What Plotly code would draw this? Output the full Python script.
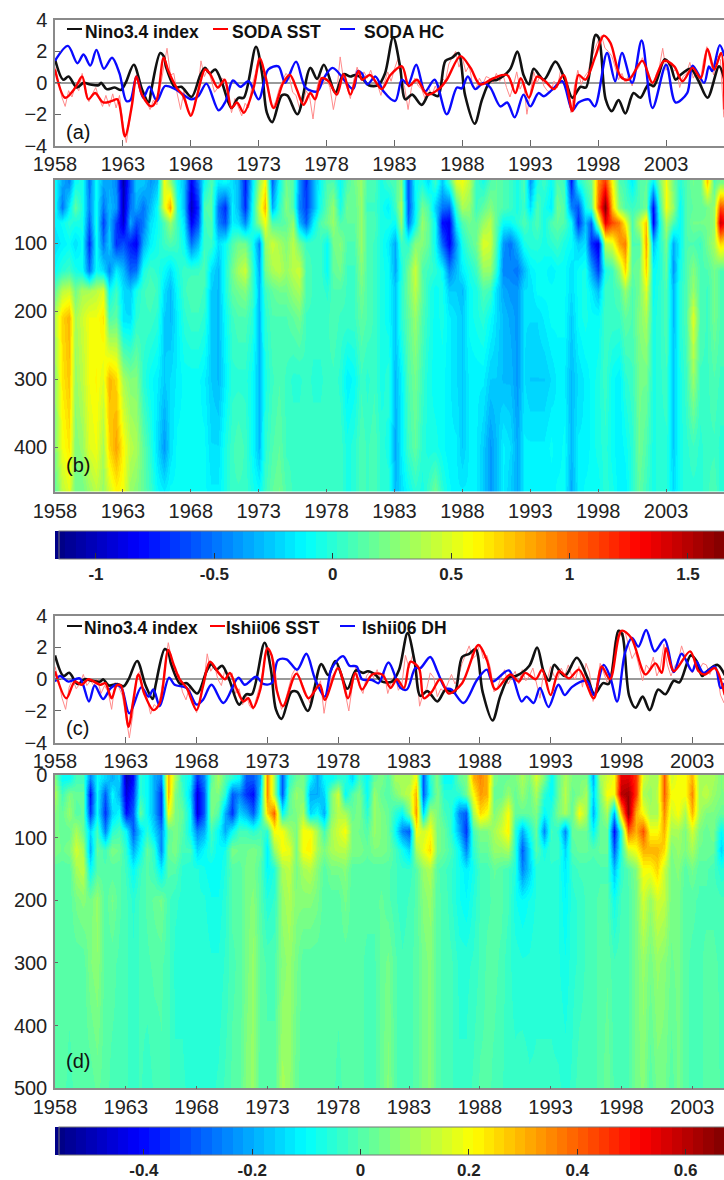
import plotly.graph_objects as go

W, H = 724, 1180
L = 55

# ---- line data (turning points) ----
nino_years = [1958.0,1958.6,1959.0,1959.6,1960.1,1960.6,1961.2,1961.4,1961.8,1962.4,1962.85,1963.2,1963.8,1964.4,1964.9,1965.1,1965.75,1966.0,1966.2,1966.85,1967.3,1968.05,1968.7,1969.05,1969.4,1969.8,1970.3,1971.0,1971.5,1971.9,1972.8,1973.25,1973.6,1974.0,1974.7,1975.1,1975.85,1976.8,1977.3,1977.8,1978.65,1979.25,1979.75,1980.1,1980.6,
              1981.1,1981.8,1982.3,1982.9,1983.4,1983.8,1984.3,1985.0,1985.6,1986.2,1986.75,1987.25,1987.7,1988.2,1988.9,1989.45,1990.05,1990.55,1991.5,1992.05,1992.5,1992.9,1993.25,1994.0,1994.85,1995.6,1996.1,1996.7,1997.1,1997.8,1998.05,1998.55,1999.0,1999.5,2000.0,2000.6,2001.1,2001.7,2002.1,2002.9,2003.3,2003.7,2004.05,2004.8,2005.4,2006.05,2006.9,2007.3]
nino_vals = [1.5,0.2,0.4,-0.3,0.0,-0.1,-0.15,0.0,-0.4,-0.3,-0.45,0.0,1.15,-0.4,-1.25,-0.4,1.9,1.7,0.95,-0.3,-0.25,-0.9,0.5,0.95,0.6,0.85,0.0,-1.6,-0.95,-0.95,2.3,0.6,-1.9,-2.5,-0.8,-0.8,-2.0,0.95,0.25,1.15,-0.6,0.55,0.4,0.5,0.3,
             -0.15,-0.15,0.6,2.9,1.1,-1.05,-0.75,-1.4,-0.65,-0.85,1.4,1.6,1.9,-0.8,-2.6,-1.05,0.1,0.2,0.85,2.0,0.5,-0.1,0.9,0.2,1.35,0.1,-0.95,-0.25,-0.3,3.05,2.85,-1.05,-1.8,-1.1,-1.95,-0.65,-0.95,-0.1,-0.2,1.5,1.15,0.2,0.5,0.9,0.1,-0.95,1.05,0.2]

soda_sst_years = [1958.0,1958.75,1959.5,1960.0,1960.45,1960.95,1961.55,1962.2,1962.6,1963.15,1963.65,1964.0,1964.4,1965.1,1965.5,1966.0,1966.35,1966.95,1967.45,1968.0,1968.45,1969.05,1969.4,1970.0,1970.5,1971.0,1971.4,1971.9,1972.6,1973.1,1973.5,1974.1,1974.8,1975.3,1975.8,1976.3,1976.8,1977.15,1977.65,1978.15,1978.75,1979.25,1979.75,1980.35,1980.6,
                  1981.2,1982.05,1982.7,1983.55,1984.05,1984.65,1985.4,1986.25,1986.85,1987.85,1988.6,1989.3,1990.3,1991.3,1991.9,1992.3,1992.9,1993.5,1994.1,1994.75,1995.45,1996.1,1996.55,1997.05,1997.8,1998.4,1998.9,1999.65,2000.25,2001.25,2002.0,2002.85,2003.6,2004.2,2004.95,2005.55,2006.05,2006.55,2007.05,2007.3]
soda_sst_vals = [0.85,-0.95,-0.3,0.4,-1.05,-0.65,-1.25,-1.15,-1.05,-3.4,-1.5,0.4,-0.75,-1.5,-1.05,1.6,0.75,-0.3,-0.85,-2.1,-0.85,0.85,0.6,-0.3,0.2,-1.6,-1.25,-1.9,-0.4,1.55,0.4,-1.6,0.0,0.5,-0.4,-1.4,-0.65,-1.05,0.3,0.1,-0.75,0.55,-0.75,0.75,0.2,
                 0.5,-0.4,0.5,1.05,-0.2,0.2,-0.75,-0.4,0.2,1.7,0.95,-0.1,0.3,0.5,-0.65,0.3,-0.95,0.4,0.1,-0.4,0.5,-1.8,0.5,0.2,1.7,3.0,2.55,0.4,0.2,1.4,0.0,1.4,1.05,0.1,0.95,0.3,2.15,0.85,1.9,-1.7]

soda_hc_years = [1958.0,1958.95,1959.65,1960.1,1960.6,1961.05,1961.6,1962.2,1962.75,1963.25,1963.55,1964.0,1964.5,1964.95,1965.5,1966.1,1966.85,1968.05,1968.55,1969.15,1970.05,1970.55,1971.1,1971.65,1972.25,1973.0,1973.7,1974.45,1974.95,1975.75,1976.45,1977.3,1977.8,1978.45,1979.95,1980.3,1980.6,
                 1981.0,1981.6,1982.2,1983.05,1983.55,1984.0,1984.6,1985.25,1985.95,1986.85,1987.6,1987.95,1988.4,1988.95,1989.55,1990.05,1990.8,1991.3,1991.85,1992.5,1993.0,1993.6,1994.0,1994.6,1995.35,1996.1,1996.55,1997.3,1997.75,1998.65,1999.25,1999.75,2000.5,2001.2,2002.0,2003.0,2003.7,2004.55,2004.95,2005.8,2006.15,2006.4,2006.95,2007.3]
soda_hc_vals = [1.4,2.35,1.25,1.8,1.1,2.1,0.9,1.6,0.6,-1.15,-1.1,0.4,-0.95,-0.25,-1.15,-0.2,-0.4,-1.05,-0.85,-0.05,-1.75,-1.2,0.15,-0.25,0.1,-1.05,0.85,1.05,0.0,1.35,-0.3,-0.55,0.3,0.95,-0.4,0.75,0.6,
                -0.1,0.4,-0.55,-1.15,0.2,-0.1,1.15,-0.55,0.2,-2.0,-0.3,-0.35,0.4,-0.4,0.0,-0.3,-1.5,-1.25,-2.2,-0.75,-1.5,-0.65,-0.85,-0.45,0.1,-1.75,-1.25,-1.05,-1.5,1.9,0.1,1.9,0.0,2.7,-1.6,1.15,-1.25,-0.65,1.1,0.0,1.05,0.75,2.4,1.7]

soda_sst_monthly = [1.0,0.1,-0.9,-1.5, -0.5,-0.9,-0.2,-0.5, 0.6,-0.4,-1.2,-0.7, -0.3,-1.0,-1.5,-0.8, -1.5,-0.7,-1.6,-0.8,
                    -2.6,-3.8,-2.4,-0.4, 0.5,-0.3,-1.0,-1.2, -1.7,-1.1,-1.4,-0.3, 1.0,2.2,0.5,0.6, -0.7,-1.7,-0.5,-1.6,
                    -2.0,-1.6,-0.7,1.4, 0.4,0.9,0.2,-0.6, -0.3,0.3,0.2,-0.8, -1.9,-1.0,-1.6,-2.1, -1.3,-1.6,-0.2,0.6,
                    1.7,0.7,0.5,-0.8, -1.6,-1.2,-0.4,0.1, 0.6,0.4,-0.6,-0.8, -1.6,-1.3,-0.5,-0.9, -2.3,-0.5,0.5,-0.1,
                    0.3,-0.3,-1.7,-0.6, 1.65,0.2,-0.3,-1.0, 0.2,1.0,0.2,0.7, 0.3,0.8,0.1,-0.1, -0.8,0.0,0.7,0.1,
                    0.9,1.5,0.3,-0.3, -1.7,-0.3,0.3,-0.2, -0.4,-1.0,-0.3,-0.8, -0.2,-0.7,0.3,0.1, 1.2,1.6,2.0,1.0,
                    1.6,0.7,1.1,-0.1, -0.4,0.3,-0.1,0.4, 0.3,0.0,0.6,0.1, 0.5,-0.3,-0.9,-0.2, 0.7,-0.4,0.1,-2.0,
                    -0.6,0.7,0.0,0.5, -0.2,-0.5,-0.6,0.1, -0.3,0.9,0.2,-0.6, -1.9,-0.2,0.8,-0.1, 0.4,0.7,1.6,2.2,
                    2.7,3.0,2.2,2.0, 1.7,1.0,0.2,0.6, 0.0,0.5,-0.2,0.7, 1.0,1.6,1.1,0.3, -0.3,0.5,1.0,2.2,
                    0.8,1.3,0.7,0.9, -0.3,0.4,0.6,1.3, 0.3,0.7,0.0,1.4, 2.3,1.4,0.5,1.7, 1.5,-2.2]

ishii_sst_years = [1958.0,1958.8,1959.4,1959.9,1960.35,1961.2,1961.55,1962.0,1962.35,1962.65,1963.2,1963.5,1963.9,1964.3,1964.95,1965.4,1966.0,1966.35,1966.8,1967.3,1968.0,1968.45,1968.95,1969.55,1970.0,1970.35,1970.8,1971.3,1971.65,1972.0,1972.5,1973.0,1973.3,1973.65,1974.1,1975.05,1975.9,1976.7,1977.05,1978.0,1978.7,1979.2,1979.68,
                   1980.4,1981.1,1981.7,1982.15,1982.65,1983.1,1983.7,1984.05,1984.6,1985.2,1985.8,1986.75,1987.9,1988.5,1989.1,1990.15,1990.75,1991.2,1991.95,1992.4,1993.0,1993.6,1994.3,1995.0,1996.05,1996.6,1997.2,1998.0,1998.7,1999.7,2000.4,2000.85,2001.15,2001.7,2002.85,2003.45,2003.9,2004.6,2005.3]
ishii_sst_vals = [0.5,-1.2,-0.15,-0.35,0.0,-0.35,-0.25,-1.2,-0.4,-0.4,-3.0,-1.5,0.3,-0.9,-1.95,-1.5,1.85,1.0,0.0,-0.55,-1.95,-0.45,1.1,0.4,0.0,0.4,-0.55,-1.4,-1.2,-1.8,-0.65,1.95,1.5,-0.65,-1.7,0.35,-1.2,-0.35,-1.3,0.7,-1.2,0.4,-0.65,
                  0.3,0.3,-0.55,0.0,-0.55,1.1,0.7,-1.2,-0.8,0.0,-0.9,-0.25,2.15,1.2,-0.65,0.3,-0.15,0.4,0.0,0.6,-1.0,0.5,0.05,0.6,-1.2,0.8,0.0,3.05,2.6,0.3,1.0,0.4,1.95,0.5,1.75,0.5,0.3,0.7,-1.0]

ishii_dh_years = [1958.0,1958.35,1958.95,1959.75,1960.4,1960.8,1961.4,1961.9,1962.35,1962.7,1963.25,1964.1,1964.6,1964.95,1965.4,1966.05,1966.45,1967.3,1968.0,1968.45,1969.05,1969.9,1970.95,1971.4,1972.2,1972.7,1973.3,1973.75,1974.35,1975.1,1975.75,1976.35,1977.05,1977.55,1978.35,1978.8,1979.3,1979.68,
                  1980.4,1980.85,1981.55,1982.4,1982.85,1983.45,1983.8,1984.5,1985.0,1985.55,1986.0,1986.85,1987.8,1988.5,1988.9,1990.05,1990.95,1991.3,1991.8,1992.25,1992.85,1993.55,1994.0,1994.5,1995.55,1996.05,1996.75,1997.2,1997.7,1998.25,1998.75,1999.2,1999.75,2000.35,2001.05,2001.7,2002.25,2003.0,2003.3,2003.8,2004.6,2005.0,2005.3]
ishii_dh_vals = [-0.15,0.2,-0.15,0.05,-1.4,-0.4,-1.25,-0.6,-0.35,-0.55,-2.15,-0.5,-1.1,-0.65,-1.7,0.1,-0.35,-0.55,-1.6,-1.3,-0.35,-1.5,0.1,-0.35,0.15,-0.3,-0.25,1.2,1.25,0.6,1.6,0.05,-1.1,0.7,1.45,0.85,0.8,0.0,
                 -0.05,-0.25,1.05,-0.55,-0.65,0.7,0.7,1.4,0.5,-0.55,-0.65,-1.5,-0.05,0.6,-0.15,0.55,-1.4,-1.1,-1.5,-0.55,-1.75,-0.35,-1.0,-0.5,-0.1,-1.0,0.9,0.15,-1.4,1.65,2.6,2.05,3.1,1.75,2.5,0.45,1.6,0.5,1.1,0.4,0.8,-0.55,-0.25]

ishii_sst_monthly = [0.8,-0.1,-1.2,-1.9, -0.5,0.0,-0.6,-0.3, 0.3,-0.4,-0.1,-0.4, 0.0,-0.9,-0.4,-0.8, -1.9,-0.2,-0.5,-1.0,
                     -2.3,-3.7,-2.2,0.2, 0.5,-0.9,-1.2,-2.2, -1.6,-1.8,-0.8,0.8, 2.3,1.2,0.2,0.3, -0.8,-1.3,-0.5,-1.6,
                     -2.1,-1.2,-0.3,1.6, 0.5,0.9,0.0,-0.4, 0.6,-0.1,0.4,-0.9, -0.6,-1.6,-1.0,-1.7, -1.9,-1.1,-0.3,0.9,
                     2.0,1.6,1.0,-1.0, -1.9,-1.4,-0.6,0.3, 0.7,0.2,-0.4,-0.9, -1.5,-0.5,-0.6,-0.1, -2.15,-0.8,0.1,0.4,
                     1.0,0.2,-0.9,-2.0, -0.4,0.8,-0.5,-0.9, 0.2,0.5,0.1,0.6, -0.1,0.4,-0.9,-0.2, 0.3,-0.7,-0.3,1.5,
                     0.7,1.5,0.8,-1.7, -0.9,-0.6,0.4,0.1, -1.1,-0.6,-0.8,-0.2, 0.3,-0.3,0.2,1.0, 1.6,2.1,1.3,1.5,
                     2.2,1.3,1.5,0.7, -0.8,-0.5,0.1,0.6, -0.3,0.1,0.5,-0.3, 0.6,-0.1,0.2,0.7, -0.3,-1.2,0.4,-0.1,
                     0.8,0.2,0.0,0.7, 0.2,0.9,0.2,0.0, 0.8,-0.5,1.0,0.4, -1.4,-0.5,1.0,0.4, -0.2,0.2,2.2,3.1,
                     2.7,3.0,2.2,1.3, 1.7,0.7,-0.1,0.9, 0.6,1.4,0.2,0.7, 2.2,0.9,0.2,0.8, 1.1,2.1,1.4,0.7,
                     0.4,0.9,0.6,1.0, 0.9,0.3,0.9,0.4, -1.0,-1.5]

# ---- panel (b): SODA, 1958.0 .. 2007.5 every half year, one list per depth ----
b_depths = [10,48,70,100,140,170,210,300,400,466]
b_10 = [-.1,-.35,-.45,-.1,-.05,-.5,-.1,-.35,-.35,-.45,-1.05,-.6,-.25,-.25,-.4,-.3,.55,.3,-.1,-.3,-.85,-.5,-.1,.1,-.15,-.1,-.2,-.3,-.75,-.2,.3,.6,-.55,-.1,.2,.1,-.4,-.7,-.35,-.1,.1,.1,-.1,.1,.2,.3,
        .1,.1,-.05,.05,.1,.25,-.6,-.1,-.05,-.2,.05,-.25,.05,.5,.55,.4,.05,-.05,.1,.15,.1,.05,-.05,.1,-.4,-.05,.05,-.1,.1,.05,-.75,-.05,.1,.2,.9,1.15,.6,.1,.05,-.15,.1,.15,-.15,.2,.55,.2,0,.1,.2,.15,.75,.1,.2,.2]
b_48 = [-.1,-.5,-.15,.15,-.05,-.45,-.1,-.5,-.3,-.4,-1.0,-.5,-.35,-.5,-.3,-.1,.5,.85,0,-.3,-1.0,-.7,.1,.15,-.5,-.7,-.15,-.3,-.7,-.1,.45,.8,-.35,0,.25,.1,-.45,-.65,-.35,-.05,.15,.3,-.05,.2,.15,.3,
        .05,.05,-.05,-.15,.05,.35,-.6,-.15,.2,.1,-.25,-.5,-.55,.05,.35,.3,.05,.15,.25,.15,.1,.05,-.05,.05,-.2,.1,-.05,-.15,.2,.1,-.45,-.6,-.1,.1,1.0,1.65,.75,.25,.1,.05,.1,.2,-.8,0,.55,.3,-.1,.1,.15,.15,.2,.3,1.1,1.0]
b_70 = [-.15,-.1,0,-.05,-.05,-.55,-.05,-.65,-.3,-.65,-.95,-.35,-.6,-.5,-.2,-.1,.1,.3,.05,-.2,-.85,-.6,.05,.1,-.45,-.6,-.15,-.2,-.45,-.05,.3,.55,.1,.1,.15,.3,-.3,-.55,-.15,.1,.2,.3,.1,.15,.15,.3,
        .1,.1,-.05,-.05,-.1,.3,-.5,-.1,.3,.15,-.1,-.8,-.85,-.15,.1,.2,.15,.3,.4,.15,-.1,-.1,0,.1,0,.1,-.05,.1,.15,.1,-.1,-.7,-.3,-.55,.4,1.35,1.1,.95,.6,.1,.4,.75,-.85,-.1,.35,.1,-.1,.1,.2,.2,.2,.3,1.45,1.2]
b_100 = [-.2,-.15,-.1,-.2,-.1,-.7,-.1,-.5,-.25,-.7,-.6,-.75,-.85,-.35,-.15,-.05,.05,.1,.05,-.1,-.5,-.3,.05,.05,-.2,-.1,.1,.2,.2,-.05,-.45,.3,.45,.35,.25,.4,.2,.05,.05,.05,-.1,.2,.25,.1,.1,.3,
         .1,.05,-.05,-.15,-.35,.05,0,.25,.25,.15,-.1,-.55,-.85,-.4,-.05,.1,.2,.5,.45,.1,-.4,-.5,-.3,-.05,0,0,-.05,0,.05,-.05,-.1,-.25,-.2,-.7,-.9,.4,.5,.85,.95,.1,.1,.85,-.3,-.05,.2,-.35,-.1,.1,.1,.05,.2,.35,.7,.6]
b_140 = [-.1,0,.05,-.05,-.1,-.5,-.1,-.2,-.45,-.15,-.3,-.55,-.5,-.05,.05,0,-.1,-.2,-.05,.05,.05,.05,.1,-.2,-.3,-.05,.2,.35,.45,.05,-.35,.2,.35,.4,.3,.4,.45,.1,.05,.05,-.1,.15,.2,.05,.05,.25,
         .1,.05,-.05,-.1,-.35,-.05,.2,.45,.1,.05,0,-.1,-.45,-.3,-.15,-.05,.05,.3,.3,0,-.45,-.45,-.5,-.3,-.15,-.1,-.1,-.15,-.1,-.1,-.2,-.1,-.05,-.35,-.65,-.05,.05,.3,.7,.15,.2,.7,-.1,-.05,.15,-.4,-.05,.1,.25,.1,.1,.2,.1,.1]
b_170 = [.15,.4,.45,.2,.35,.35,.4,.5,-.1,.05,-.2,-.25,-.05,.05,.1,.05,-.2,-.3,-.1,.05,.1,.1,.05,-.25,-.3,-.05,.15,.2,.25,.05,-.3,.05,.15,.2,.2,.3,.35,.1,.05,.05,0,.1,.1,.05,.05,.2,
         .1,.05,-.05,-.1,-.25,0,.2,.4,.15,0,-.1,-.05,-.25,-.25,-.3,-.1,-.05,.1,.05,-.2,-.35,-.4,-.4,-.2,-.2,-.1,-.1,-.1,-.1,-.1,-.2,-.1,-.05,-.15,-.3,.05,.05,.1,.3,.1,.2,.5,-.1,0,.1,-.3,0,.1,.3,.1,.05,.2,.1,.1]
b_210 = [.4,.7,.8,.35,.45,.55,.55,.65,.1,.15,-.2,-.2,0,.05,.05,0,-.25,-.3,-.15,0,.05,.05,0,-.25,-.3,-.1,.05,.1,.1,0,-.3,0,.1,.1,.1,.15,.2,.05,.05,.05,.05,.1,.05,.05,.05,.15,
         .1,.05,-.05,-.1,-.25,0,.15,.3,.1,0,-.1,-.05,-.15,-.2,-.25,-.1,-.05,0,-.1,-.2,-.3,-.35,-.4,-.2,-.2,-.2,-.15,-.1,-.1,-.1,-.25,-.1,-.05,-.1,-.1,.05,.05,.05,.15,.1,.25,.35,-.05,0,.1,-.3,0,.1,.5,.1,.05,.2,.1,.1]
b_300 = [.3,.65,.75,.3,.4,.55,.6,.5,.8,.7,.35,.25,.25,0,-.1,-.15,-.25,-.2,-.15,-.1,-.1,-.1,-.15,-.25,-.3,-.15,0,0,0,-.1,-.3,-.05,.05,.1,.05,0,0,.05,0,0,.05,.05,0,-.15,-.1,.05,
         0,.05,-.05,0,-.3,-.15,.1,.2,.05,-.05,-.1,-.1,-.15,-.2,-.25,-.15,-.15,-.15,-.25,-.25,-.3,-.3,-.4,-.2,-.25,-.25,-.25,-.2,-.15,-.15,-.3,-.2,-.15,-.1,-.05,.05,-.1,-.15,0,.05,.2,.2,-.05,0,.05,-.25,-.05,.05,.3,.05,.05,.1,.05,.05]
b_400 = [.25,.55,.65,.25,.3,.5,.55,.35,.7,.85,.6,.4,.35,.15,0,-.2,-.4,-.2,-.1,-.1,-.1,-.1,-.1,-.2,-.2,-.05,.05,.1,.05,-.1,-.3,0,.1,.15,.05,.05,.05,.05,.05,.05,.05,.05,.05,-.05,0,.1,
         .05,.1,0,-.05,-.35,-.15,.05,.15,0,-.05,-.05,-.1,-.15,-.15,-.25,-.15,-.15,-.25,-.4,-.3,-.15,-.2,-.35,-.15,-.15,-.15,-.15,-.1,-.15,-.1,-.3,-.15,-.15,-.1,-.05,0,-.1,-.15,-.1,0,.2,.1,-.05,0,0,-.25,-.05,0,.05,0,.05,.05,0,0]
b_466 = [.15,.4,.5,.2,.2,.3,.4,.3,.45,.6,.55,.3,.25,.15,.05,-.1,-.15,-.1,-.1,-.1,-.1,-.1,-.1,-.15,-.15,-.05,.05,.05,.05,-.05,-.1,.05,.15,.2,.1,.05,.05,.05,.05,.05,.05,.05,.05,-.05,0,.1,
         .05,.1,0,0,-.3,-.2,-.1,0,-.05,.05,.2,0,-.1,-.15,-.15,-.15,-.15,-.25,-.4,-.3,-.15,-.25,-.35,-.15,-.15,-.15,-.15,-.15,-.1,-.1,-.35,-.15,-.1,-.1,-.1,0,-.05,-.15,-.15,0,.15,.05,-.05,0,0,-.2,-.05,0,0,0,.05,.1,0,0]

# ---- panel (d): Ishii06, 1958.0 .. 2005.5 every half year, one list per depth ----
d_depths = [5,30,60,90,120,150,200,300,500]
d_5 = [.05,-.1,-.1,-.02,-.02,-.25,-.1,-.15,-.2,-.15,-.5,-.4,-.05,-.1,-.2,-.25,.3,.1,-.05,-.1,-.35,-.25,0,.1,0,-.05,-.1,-.3,-.3,-.2,.35,.1,-.3,-.05,.02,.05,-.1,-.2,-.1,-.1,-.05,-.05,-.15,-.02,
       -.1,.02,.05,0,.1,.1,.1,.2,-.3,-.05,.05,-.1,-.1,.02,.05,.3,.35,.3,.05,.02,.03,.05,.1,.05,.15,.05,-.1,.02,.1,.05,.05,.05,-.2,.1,.15,.2,.55,.55,.45,.15,.1,.1,.4,.15,.2,.2,.3,.1,.1,.1,.05,.1]
d_30 = [.1,-.02,.05,.02,.02,-.4,-.1,-.3,-.1,-.2,-.45,-.35,-.05,-.1,-.2,-.35,.3,.05,-.02,-.15,-.45,-.3,.05,.05,-.05,-.3,-.25,-.35,-.4,-.15,.35,.1,-.3,0,.08,.05,-.2,-.2,-.15,.05,.15,-.1,0,.05,
        -.1,.08,.02,0,.05,.1,.13,.3,-.3,-.08,.05,-.05,-.05,-.05,.03,.2,.33,.3,.02,.02,.08,.02,.08,.02,.1,-.05,-.1,.02,.12,.02,.05,.1,-.15,.05,.2,.2,.6,.63,.45,.1,.08,.12,.4,.2,.2,.2,.35,.1,.13,.08,.05,.05]
d_60 = [.05,.02,.08,0,.02,-.35,-.1,-.35,-.15,-.1,-.4,-.3,.02,-.1,-.2,-.35,.2,.05,.02,-.1,-.45,-.3,.05,0,-.2,-.35,-.15,-.2,-.3,-.1,.25,.4,-.1,.02,.05,.1,-.15,-.1,-.2,.05,.12,.1,.02,.05,
        -.05,.08,.05,.02,-.05,-.1,.05,.33,-.15,.1,.05,-.02,-.05,-.25,-.3,.1,.25,.2,.05,.1,.2,.02,.02,.02,.05,-.1,-.05,.05,.1,.02,.2,.1,-.2,.02,.1,-.2,.3,.65,.3,.2,.1,.1,.35,.15,.2,.1,.3,.1,.05,.05,.02,.02]
d_90 = [.05,.02,.02,.1,.02,-.15,-.02,-.25,-.05,-.02,-.1,-.3,-.15,-.05,-.15,-.25,0,.05,0,-.1,-.25,-.2,-.02,-.1,-.2,-.1,-.02,-.02,-.05,-.02,-.05,.2,.2,.1,.05,.2,.2,.1,-.02,.1,.15,.2,.05,.03,
        0,.08,.05,.03,-.1,-.25,-.3,.2,.15,.2,.05,.02,-.05,-.2,-.35,-.02,.05,.05,.1,.15,.22,-.05,-.2,-.08,.02,-.25,-.02,-.05,-.25,.02,.03,.03,-.1,.02,.02,-.4,-.05,.4,.3,.42,.2,.2,.3,.1,.1,.05,.15,.05,.02,.05,-.1,-.02]
d_120 = [.05,.03,.05,.15,.1,-.2,.02,-.02,.05,.03,-.05,-.2,-.1,.02,-.05,-.25,.02,.05,-.02,-.02,-.15,-.1,-.05,-.1,-.08,.05,.03,.03,.05,.02,-.12,.08,.2,.18,.05,.2,.22,.1,.05,.1,.12,.12,.05,.05,
         .02,.05,.05,.03,-.02,-.08,-.15,.1,.18,.25,.05,.02,-.02,-.1,-.25,-.05,.02,.02,.08,.08,.1,-.05,-.3,-.15,0,-.08,-.03,-.03,-.15,0,.02,.02,0,.02,.02,-.3,-.05,.15,.2,.3,.3,.3,.25,.05,.08,.05,.1,.03,.03,.02,-.15,-.05]
d_150 = [0,0,0,.1,.13,-.1,0,0,0,0,-.03,-.1,-.03,0,-.03,-.12,0,0,-.05,-.06,-.06,-.08,-.1,-.1,-.06,0,0,.04,.04,0,-.1,-.06,.1,.13,.04,.1,.12,.06,0,.04,.04,.06,0,0,
         0,0,0,0,-.02,-.04,-.04,0,.08,.11,0,-.02,-.04,-.08,-.12,-.08,-.02,-.02,.02,0,-.02,-.06,-.25,-.16,-.06,-.05,-.05,-.06,-.12,-.04,-.02,-.02,-.02,-.01,-.01,-.18,-.04,0,.06,.2,.2,.26,.14,.04,.06,0,.04,0,0,-.02,-.06,-.05]
d_200 = [0,0,0,.04,.06,.04,.08,0,.04,0,-.02,-.05,-.02,0,.02,.04,-.02,-.04,-.05,-.05,-.06,-.06,-.08,-.08,-.05,0,0,.04,.06,0,-.06,-.04,.08,.11,.06,.06,.06,.04,0,0,0,.04,0,0,
         0,0,.02,0,-.02,-.04,-.02,0,.06,.08,0,-.01,-.04,-.08,-.1,-.06,-.02,-.01,0,0,-.02,-.08,-.1,-.08,-.06,-.06,-.05,-.06,-.1,-.05,-.04,-.02,-.01,0,0,-.08,-.02,-.01,.04,.15,.08,.15,.13,.04,.04,0,0,-.01,-.01,-.01,-.02,-.02]
d_300 = [0,0,0,0,0,.05,.07,0,0,-.01,-.02,-.04,-.02,-.01,0,0,-.02,-.05,-.05,-.06,-.05,-.05,-.06,-.06,-.04,-.01,0,.04,.08,.01,-.01,-.01,.06,.08,.04,0,0,0,0,0,0,0,0,0,
         -.01,-.01,.02,.04,0,-.02,-.01,0,.04,.06,0,-.01,-.02,-.05,-.05,-.04,-.02,0,0,-.01,-.04,-.05,-.06,-.06,-.05,-.05,-.05,-.06,-.08,-.05,-.04,-.02,-.01,0,.01,-.02,-.01,-.01,.04,.08,.04,.08,.06,.03,.04,0,-.01,-.01,0,0,-.01,-.01]
d_500 = [0,0,-.01,0,0,0,.02,0,-.01,-.01,-.02,-.04,-.02,-.04,-.02,-.01,-.02,-.04,-.04,-.05,-.05,-.05,-.05,-.04,-.02,0,0,.06,.08,0,0,0,.1,.08,.02,0,0,0,0,0,-.01,0,.01,0,
         -.01,-.01,.02,.06,0,-.02,-.01,0,.04,.06,0,-.01,-.02,-.04,-.04,-.02,0,0,-.01,-.02,-.04,-.04,-.03,-.04,-.04,-.04,-.04,-.04,-.05,-.04,-.01,-.01,-.01,0,.03,-.01,-.01,-.01,.04,.06,0,.04,.04,0,.04,0,-.01,-.01,0,.01,-.01,-.01]

b_z = [b_10,b_48,b_70,b_100,b_140,b_170,b_210,b_300,b_400,b_466]
d_z = [d_5,d_30,d_60,d_90,d_120,d_150,d_200,d_300,d_500]
b_x = [1958 + i * 0.5 for i in range(100)]
d_x = [1958 + i * 0.5 for i in range(96)]
soda_m_x = [1958 + i * 0.25 for i in range(len(soda_sst_monthly))]
ishii_m_x = [1958 + i * 0.25 for i in range(len(ishii_sst_monthly))]

tick_years = [1958,1963,1968,1973,1978,1983,1988,1993,1998,2003]
line_y_ticks = [-4,-2,0,2,4]
b_ticks = [100,200,300,400]
d_ticks = [0,100,200,300,400,500]
cb_b_ticks = [-1,-0.5,0,0.5,1,1.5]
cb_b_text = ["-1","-0.5","0","0.5","1","1.5"]
cb_d_ticks = [-0.4,-0.2,0,0.2,0.4,0.6]
cb_d_text = ["-0.4","-0.2","0","0.2","0.4","0.6"]

# 64-level jet colormap
def jet(t):
    r = min(max(min(4*t-1.5, -4*t+4.5), 0), 1)
    g = min(max(min(4*t-0.5, -4*t+3.5), 0), 1)
    b = min(max(min(4*t+0.5, -4*t+2.5), 0), 1)
    return f"rgb({int(r*255)},{int(g*255)},{int(b*255)})"
N = 64
jet64 = []
for i in range(N):
    c = jet((i+0.5)/N)
    jet64 += [[i/N, c], [(i+1)/N, c]]

BLACK, RED, BLUE, THIN = "#111111", "#ff0000", "#0a0aff", "#ff8a8a"
TXT = "#222222"
FONT = "Liberation Sans, Arial, sans-serif"

fig = go.Figure()

def line(x, y, color, width, ax, shape="spline"):
    fig.add_trace(go.Scatter(x=x, y=y, mode="lines", showlegend=False, hoverinfo="skip",
                             line=dict(color=color, width=width, shape=shape, smoothing=0.9),
                             xaxis=f"x{ax}", yaxis=f"y{ax}"))

line(soda_m_x, soda_sst_monthly, THIN, 1, 1, "linear")
line(nino_years, nino_vals, BLACK, 2.6, 1)
line(soda_hc_years, soda_hc_vals, BLUE, 2.4, 1)
line(soda_sst_years, soda_sst_vals, RED, 2.4, 1)
line(ishii_m_x, ishii_sst_monthly, THIN, 1, 3, "linear")
line(nino_years, nino_vals, BLACK, 2.6, 3)
line(ishii_dh_years, ishii_dh_vals, BLUE, 2.4, 3)
line(ishii_sst_years, ishii_sst_vals, RED, 2.4, 3)

def cbar(ypx_top, vals, text):
    return dict(orientation="h", xref="container", yref="container",
                x=(L+4)/W, xanchor="left", y=1-ypx_top/H, yanchor="top",
                xpad=0, ypad=0,
                lenmode="pixels", len=W-L, thicknessmode="pixels", thickness=28,
                outlinecolor="#777777", outlinewidth=1,
                ticks="inside", ticklen=6, tickcolor="#333333", tickwidth=1,
                tickmode="array", tickvals=vals, ticktext=text, ticklabeloverflow="allow",
                tickfont=dict(family=FONT, size=17, color=TXT, weight="bold"))

fig.add_trace(go.Heatmap(x=b_x, y=b_depths, z=b_z, zmin=-1.175, zmax=1.65, zsmooth="best",
                         colorscale=jet64, hoverinfo="skip", xaxis="x2", yaxis="y2",
                         colorbar=cbar(531, cb_b_ticks, cb_b_text)))
fig.add_trace(go.Heatmap(x=d_x, y=d_depths, z=d_z, zmin=-0.565, zmax=0.67, zsmooth="best",
                         colorscale=jet64, hoverinfo="skip", xaxis="x4", yaxis="y4",
                         colorbar=cbar(1127, cb_d_ticks, cb_d_text)))

def dom(top, bottom):
    return [1-bottom/H, 1-top/H]

tf = dict(family=FONT, size=20, color=TXT)
def xax(end, anchor, ticklen):
    return dict(domain=[0, 1], range=[1958, end], anchor=anchor, tickmode="array", tickvals=tick_years,
                ticks="inside", ticklen=ticklen, tickcolor="#666666", tickwidth=1, tickfont=tf,
                showgrid=False, zeroline=False, showline=True, mirror=True,
                linecolor="#8a8a8a", linewidth=1.5)
def yax(rng, anchor, top, bottom, vals, ticklen, zero=False):
    return dict(domain=dom(top, bottom), range=rng, anchor=anchor, tickmode="array", tickvals=vals,
                ticks="inside", ticklen=ticklen, tickcolor="#666666", tickwidth=1, tickfont=tf,
                ticklabelstandoff=2,
                showgrid=False, zeroline=zero, zerolinecolor="#9a9a9a", zerolinewidth=2.2,
                showline=True, mirror=True, linecolor="#8a8a8a", linewidth=1.5)

END_AB = 1958 + (W-L)/13.58
END_CD = 1958 + (W-L)/14.16

def px_x(p):
    return (p-L)/(W-L)
def px_y(p):
    return 1-p/H

ann, shp = [], []
def label(px, py, text, bold=False, size=20):
    ann.append(dict(xref="paper", yref="paper", x=px_x(px), y=px_y(py), text=f"<b>{text}</b>" if bold else text,
                    showarrow=False, xanchor="left", yanchor="middle",
                    font=dict(family=FONT, size=size, color="#111111"), borderpad=0, borderwidth=0))
def key(x0, x1, py, color):
    shp.append(dict(type="line", xref="paper", yref="paper", x0=px_x(x0), x1=px_x(x1), y0=px_y(py), y1=px_y(py),
                    line=dict(color=color, width=2)))

key(67,82,29,BLACK); label(85,32,"Nino3.4 index",True,17.5)
key(213,228,29,RED); label(232,32,"SODA SST",True,17.5)
key(340,355,29,BLUE); label(364,32,"SODA HC",True,17.5)
key(67,82,626,BLACK); label(84,628,"Nino3.4 index",True,17.5)
key(210,225,626,RED); label(226,628,"Ishii06 SST",True,17.5)
key(340,355,626,BLUE); label(362,628,"Ishii06 DH",True,17.5)
label(66,132,"(a)")
label(66,465,"(b)")
label(66,728,"(c)")
label(66,1061,"(d)")

fig.update_layout(
    width=W, height=H, autosize=False, showlegend=False,
    paper_bgcolor="white", plot_bgcolor="white",
    margin=dict(l=L, r=0, t=0, b=0, pad=0, autoexpand=False),
    font=dict(family=FONT, color=TXT),
    xaxis=xax(END_AB, "y", 6),
    yaxis=yax([-4, 4], "x", 20, 145.7, line_y_ticks, 6, zero=True),
    xaxis2=xax(END_AB, "y2", 3),
    yaxis2=yax([466, 6.5], "x2", 179.5, 492, b_ticks, 3),
    xaxis3=xax(END_CD, "y3", 6),
    yaxis3=yax([-4, 4], "x3", 615.7, 742.7, line_y_ticks, 6, zero=True),
    xaxis4=xax(END_CD, "y4", 3),
    yaxis4=yax([500, 0], "x4", 775, 1088.3, d_ticks, 3),
    annotations=ann, shapes=shp,
)

fig.write_html("out.html", config={"displayModeBar": False, "responsive": False},
               post_script="document.body.style.margin='0';document.body.style.overflow='hidden';")
